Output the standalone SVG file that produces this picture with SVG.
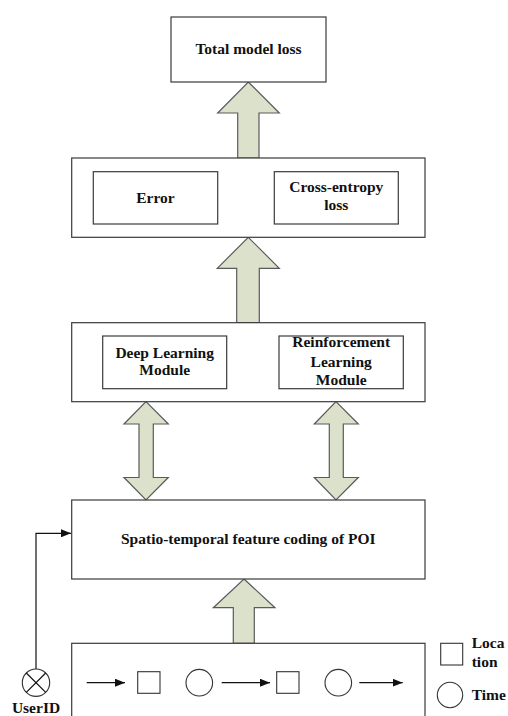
<svg xmlns="http://www.w3.org/2000/svg" width="508" height="716" viewBox="0 0 508 716">
<defs>
<style>
.box{fill:#fff;stroke:#3a3a3a;stroke-width:1.2}
.big{fill:#dce1cb;stroke:#5a5a5a;stroke-width:1.2}
.t{font-family:"Liberation Serif","Times New Roman",serif;font-weight:bold;font-size:15.5px;fill:#111;text-anchor:middle}
.s{text-anchor:start}
.ln{stroke:#111;stroke-width:1.2;fill:none}
.sym{fill:#fff;stroke:#333;stroke-width:1.1}
</style>
<marker id="ah" markerWidth="10" markerHeight="8" refX="10" refY="4" orient="auto" markerUnits="userSpaceOnUse">
<path d="M0,0 L10,4 L0,8 Z" fill="#111"/>
</marker>
</defs>
<rect width="508" height="716" fill="#fff"/>

<g id="connectors">
<path class="big" d="M248.3,82 L279.3,113 L259,113 L259,158 L237.7,158 L237.7,113 L217.7,113 Z"/>
<path class="big" d="M248.3,237.3 L279.3,268.3 L259.3,268.3 L259.3,322.7 L236.7,322.7 L236.7,268.3 L217.3,268.3 Z"/>
<path class="big" d="M146,401.7 L168.3,424 L153.3,424 L153.3,477.5 L168.3,477.5 L146,500 L124,477.5 L139,477.5 L139,424 L124,424 Z"/>
<path class="big" d="M336,401.7 L358.3,424 L343.3,424 L343.3,477.5 L358.3,477.5 L336,500 L314.3,477.5 L329.3,477.5 L329.3,424 L314.3,424 Z"/>
<path class="big" d="M244,579 L275,607.7 L254.3,607.7 L254.3,643.3 L233.3,643.3 L233.3,607.7 L213.3,607.7 Z"/>
<path class="ln" d="M36,669 L36,533.3 L71,533.3" marker-end="url(#ah)"/>
</g>

<g id="total-loss">
<rect class="box" x="171" y="17" width="155" height="65"/>
<text class="t" x="248.5" y="54">Total model loss</text>
</g>

<g id="loss-group">
<rect class="box" x="71.7" y="158" width="353.3" height="79.3"/>
<g id="error">
<rect class="box" x="93.3" y="171.7" width="124.4" height="52.3"/>
<text class="t" x="155.5" y="202.7">Error</text>
</g>
<g id="cross-entropy">
<rect class="box" x="274.3" y="171.7" width="124" height="52.3"/>
<text class="t" x="336.3" y="191.7">Cross-entropy</text>
<text class="t" x="336.3" y="210">loss</text>
</g>
</g>

<g id="module-group">
<rect class="box" x="71.7" y="322.7" width="353.3" height="79"/>
<g id="deep-learning">
<rect class="box" x="102.7" y="336" width="124" height="52.7"/>
<text class="t" x="164.7" y="357.7">Deep Learning</text>
<text class="t" x="164.7" y="375">Module</text>
</g>
<g id="reinforcement-learning">
<rect class="box" x="279" y="336" width="124.3" height="52.7"/>
<text class="t" x="341.2" y="347.3">Reinforcement</text>
<text class="t" x="341.2" y="366.7">Learning</text>
<text class="t" x="341.2" y="385">Module</text>
</g>
</g>

<g id="feature-coding">
<rect class="box" x="71.7" y="500" width="353.3" height="79"/>
<text class="t" x="248.3" y="544">Spatio-temporal feature coding of POI</text>
</g>

<g id="sequence">
<rect class="box" x="71.7" y="643.3" width="353.3" height="90"/>
<line class="ln" x1="86.7" y1="682.7" x2="125" y2="682.7" marker-end="url(#ah)"/>
<rect class="sym" x="137.7" y="671.7" width="22.3" height="21.6"/>
<circle class="sym" cx="199.3" cy="682.7" r="13.3"/>
<line class="ln" x1="221.7" y1="682.7" x2="270" y2="682.7" marker-end="url(#ah)"/>
<rect class="sym" x="276.7" y="671.7" width="22.3" height="21.6"/>
<circle class="sym" cx="338.3" cy="682.7" r="13.3"/>
<line class="ln" x1="359.3" y1="682.7" x2="402.7" y2="682.7" marker-end="url(#ah)"/>
</g>

<g id="legend-location">
<rect class="sym" x="440.7" y="643.3" width="22" height="21.7"/>
<text class="t s" x="471.7" y="648.3">Loca</text>
<text class="t s" x="471.7" y="667.3">tion</text>
</g>
<g id="legend-time">
<circle class="sym" cx="450" cy="695" r="12.7"/>
<text class="t s" x="471.7" y="700">Time</text>
</g>

<g id="userid">
<circle class="sym" cx="36" cy="682.7" r="13.7"/>
<path class="ln" d="M26.3,673 L45.7,692.4 M45.7,673 L26.3,692.4" stroke-width="1"/>
<text class="t" x="36" y="713.3">UserID</text>
</g>
</svg>
